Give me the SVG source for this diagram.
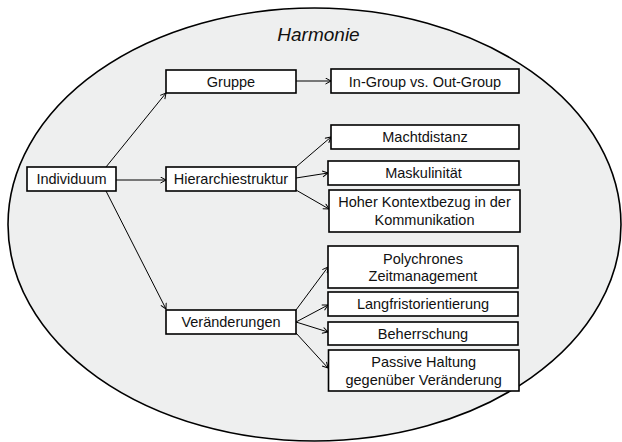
<svg xmlns="http://www.w3.org/2000/svg" width="622" height="442" viewBox="0 0 622 442">
<style>
.box{fill:#ffffff;stroke:#000000;stroke-width:1.6}
.lbl{font-family:"Liberation Sans",Arial,sans-serif;font-size:14.5px;fill:#111111;text-anchor:middle}
.con line{stroke:#000000;stroke-width:1;marker-end:url(#ah)}
</style>
<defs>
<marker id="ah" markerUnits="userSpaceOnUse" markerWidth="8" markerHeight="8" refX="6" refY="3.5" orient="auto">
<path d="M0.5,0.5 L6,3.5 L0.5,6.5" fill="none" stroke="#000000" stroke-width="1"/>
</marker>
</defs>
<rect width="622" height="442" fill="#ffffff"/>
<g id="harmonie">
<ellipse cx="314.5" cy="224.5" rx="306.5" ry="216.5" fill="#eeefef" stroke="#000000" stroke-width="1.6"/>
<text x="318.5" y="40.5" font-family="Liberation Sans,Arial,sans-serif" font-size="19" font-style="italic" text-anchor="middle" fill="#111111">Harmonie</text>
</g>
<g id="connectors" class="con">
<line x1="106" y1="167" x2="166" y2="93"/>
<line x1="116" y1="180" x2="166" y2="180"/>
<line x1="106" y1="191" x2="166" y2="309"/>
<line x1="296" y1="81" x2="331" y2="81"/>
<line x1="296" y1="167" x2="331" y2="137"/>
<line x1="296" y1="178" x2="328" y2="173"/>
<line x1="296" y1="190" x2="329" y2="209"/>
<line x1="296" y1="310" x2="328" y2="267"/>
<line x1="296" y1="322" x2="328" y2="305"/>
<line x1="296" y1="322" x2="328" y2="332"/>
<line x1="296" y1="333" x2="328" y2="368"/>
</g>
<g id="individuum">
<rect class="box" x="27" y="167" width="89" height="24"/>
<text class="lbl" x="71.5" y="184.3">Individuum</text>
</g>
<g id="gruppe">
<rect class="box" x="166" y="70" width="130" height="23"/>
<text class="lbl" x="231" y="87">Gruppe</text>
</g>
<g id="hierarchiestruktur">
<rect class="box" x="166" y="167" width="130" height="24"/>
<text class="lbl" x="231" y="184.3">Hierarchiestruktur</text>
</g>
<g id="veraenderungen">
<rect class="box" x="166" y="310" width="130" height="24"/>
<text class="lbl" x="231" y="327">Veränderungen</text>
</g>
<g id="ingroup">
<rect class="box" x="331" y="69" width="188" height="24"/>
<text class="lbl" x="425" y="86.5">In-Group vs. Out-Group</text>
</g>
<g id="machtdistanz">
<rect class="box" x="331" y="125" width="188" height="24"/>
<text class="lbl" x="425" y="142">Machtdistanz</text>
</g>
<g id="maskulinitaet">
<rect class="box" x="328" y="161" width="191" height="24"/>
<text class="lbl" x="423.5" y="178">Maskulinität</text>
</g>
<g id="kontextbezug">
<rect class="box" x="329" y="190" width="191" height="42"/>
<text class="lbl" x="424.5" y="207.3">Hoher Kontextbezug in der</text>
<text class="lbl" x="424.5" y="224.8">Kommunikation</text>
</g>
<g id="polychrones">
<rect class="box" x="328" y="246" width="190" height="42"/>
<text class="lbl" x="423" y="263.7">Polychrones</text>
<text class="lbl" x="423" y="281.2">Zeitmanagement</text>
</g>
<g id="langfristorientierung">
<rect class="box" x="328" y="292" width="190" height="24"/>
<text class="lbl" x="423" y="309">Langfristorientierung</text>
</g>
<g id="beherrschung">
<rect class="box" x="328" y="322" width="190" height="23"/>
<text class="lbl" x="423" y="338.5">Beherrschung</text>
</g>
<g id="passive">
<rect class="box" x="328.5" y="350" width="190.5" height="41"/>
<text class="lbl" x="423.7" y="367.3">Passive Haltung</text>
<text class="lbl" x="423.7" y="384.5">gegenüber Veränderung</text>
</g>
</svg>
